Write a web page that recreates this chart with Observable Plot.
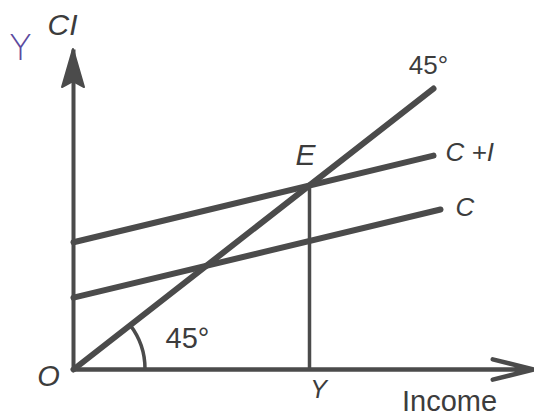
<!DOCTYPE html>
<html>
<head>
<meta charset="utf-8">
<script src="https://cdn.jsdelivr.net/npm/d3@7"></script>
<script src="https://cdn.jsdelivr.net/npm/@observablehq/plot@0.6"></script>
<style>
  html, body { margin: 0; padding: 0; background: #fff; }
</style>
</head>
<body>
<div id="chart"></div>
<script>
// 45° line (income = spending)
const diagonalIncome = [0, 360];
const diagonalSpending = [0, 360];
// Consumption function C
const consumptionIncome = [0, 367];
const consumption = [92, 205];
// Aggregate demand C + I
const demandIncome = [0, 360];
const aggregateDemand = [163, 274];
// Equilibrium E
const equilibriumIncome = [236];
const equilibriumSpending = [236];
// axis extents
const axisIncomeMax = [460];
const axisSpendingMax = [410];

const ink = "#4b4b4b";
const textInk = "#3c3c3c";
const toPts = (xs, ys) => xs.map((x, i) => ({x, y: ys[i]}));

const diag = toPts(diagonalIncome, diagonalSpending);
const cons = toPts(consumptionIncome, consumption);
const dem = toPts(demandIncome, aggregateDemand);
const eq = {x: equilibriumIncome[0], y: equilibriumSpending[0]};
const origin = {x: 0, y: 0};
const xEnd = {x: axisIncomeMax[0], y: 0};
const yEnd = {x: 0, y: axisSpendingMax[0]};

const italic = {fontStyle: "italic", fontFamily: "Liberation Sans, sans-serif", fill: textInk};
const upright = {fontFamily: "Liberation Sans, sans-serif", fill: textInk};

// angle arc drawn through the scales
function angleArc(radius) {
  return (index, scales) => {
    const ox = scales.x(0), oy = scales.y(0);
    const ex = scales.x(diag[1].x), ey = scales.y(diag[1].y);
    const a = Math.atan2(oy - ey, ex - ox);
    const p = d3.path();
    p.moveTo(ox + radius * Math.cos(a), oy - radius * Math.sin(a));
    p.arc(ox, oy, radius, -a, 0, false);
    return d3.create("svg:path")
      .attr("d", p.toString())
      .attr("fill", "none")
      .attr("stroke", ink)
      .attr("stroke-width", 3.5)
      .node();
  };
}

// filled arrowhead at the top of the vertical axis
function verticalHead(len, halfWidth) {
  return (index, scales) => {
    const tx = scales.x(0), ty = scales.y(yEnd.y);
    return d3.create("svg:path")
      .attr("d", `M${tx},${ty}L${tx - halfWidth},${ty + len}L${tx},${ty + len - 6}L${tx + halfWidth},${ty + len}Z`)
      .attr("fill", ink)
      .attr("stroke", ink)
      .attr("stroke-width", 2)
      .attr("stroke-linejoin", "round")
      .node();
  };
}

const chart = Plot.plot({
  width: 534,
  height: 416,
  marginLeft: 73,
  marginRight: 1,
  marginTop: 49,
  marginBottom: 47,
  x: {domain: [0, axisIncomeMax[0]], axis: null},
  y: {domain: [0, axisSpendingMax[0]], axis: null},
  style: {background: "#fff", overflow: "visible"},
  marks: [
    Plot.arrow([{x1: 0, y1: 0, x2: xEnd.x, y2: 0}], {x1: "x1", y1: "y1", x2: "x2", y2: "y2", stroke: ink, strokeWidth: 4.5, headLength: 14, headAngle: 28}),
    Plot.link([{x1: 0, y1: 0, x2: 0, y2: yEnd.y}], {x1: "x1", y1: "y1", x2: "x2", y2: "y2", stroke: ink, strokeWidth: 4}),
    verticalHead(38, 11),
    Plot.line(diag, {x: "x", y: "y", stroke: ink, strokeWidth: 6, strokeLinecap: "round"}),
    Plot.line(cons, {x: "x", y: "y", stroke: ink, strokeWidth: 6, strokeLinecap: "round"}),
    Plot.line(dem, {x: "x", y: "y", stroke: ink, strokeWidth: 6, strokeLinecap: "round"}),
    Plot.link([eq], {x1: "x", y1: "y", x2: "x", y2: 0, stroke: ink, strokeWidth: 3.5}),
    angleArc(72),
    Plot.text([diag[1]], {x: "x", y: "y", text: () => "45°", dx: -5, dy: -23, fontSize: 26, ...upright}),
    Plot.text([dem[1]], {x: "x", y: "y", text: () => "C +I", dx: 12, dy: -3, fontSize: 26, textAnchor: "start", ...italic}),
    Plot.text([cons[1]], {x: "x", y: "y", text: () => "C", dx: 15, dy: -2, fontSize: 26, textAnchor: "start", ...italic}),
    Plot.text([eq], {x: "x", y: "y", text: () => "E", dx: -4, dy: -30, fontSize: 30, ...italic}),
    Plot.text([{x: eq.x, y: 0}], {x: "x", y: "y", text: () => "Y", dx: 9, dy: 20, fontSize: 25, ...italic}),
    Plot.text([origin], {x: "x", y: "y", text: () => "O", dx: -25, dy: 7, fontSize: 29, ...italic}),
    Plot.text([xEnd], {x: "x", y: "y", text: () => "Income", dx: -84, dy: 32, fontSize: 29, letterSpacing: 3.5, ...upright}),
    Plot.text([yEnd], {x: "x", y: "y", text: () => "CI", dx: -11, dy: -24, fontSize: 30, ...italic}),
    Plot.text([yEnd], {x: "x", y: "y", text: () => "Y", dx: -53, dy: -1, fontSize: 36, fontFamily: "DejaVu Sans, sans-serif", fontWeight: 300, fill: "#5b4a9e"}),
    Plot.text([origin], {x: "x", y: "y", text: () => "45°", dx: 114, dy: -31, fontSize: 29, ...upright})
  ]
});
document.getElementById("chart").append(chart);
</script>
</body>
</html>
